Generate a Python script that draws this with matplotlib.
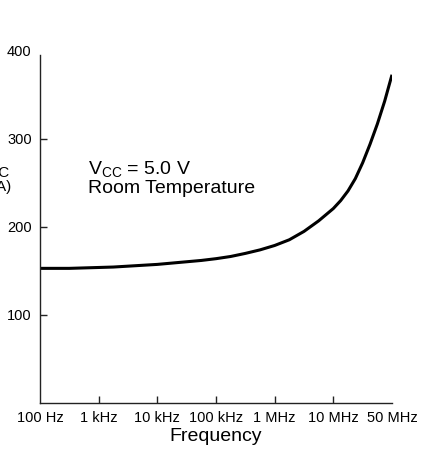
import matplotlib
matplotlib.use('Agg')
import matplotlib.pyplot as plt

plt.rcParams['font.family'] = ['Liberation Sans', 'DejaVu Sans']
plt.rcParams['mathtext.fontset'] = 'custom'
plt.rcParams['mathtext.rm'] = 'Liberation Sans'

# frequency axis: evenly spaced labels, curve position in label units
freq_labels = ["100 Hz", "1 kHz", "10 kHz", "100 kHz", "1 MHz", "10 MHz", "50 MHz"]
freq_pos = [0, 0.25, 0.5, 0.75, 1, 1.25, 1.5, 1.75, 2, 2.25, 2.5, 2.75, 3, 3.25, 3.5,
            3.75, 4, 4.25, 4.5, 4.75, 5, 5.125, 5.25, 5.375, 5.5, 5.625, 5.75, 5.875, 6]
icc_ua = [153, 153, 153, 153.5, 154, 154.5, 155.5, 156.5, 157.5, 159, 160.5, 162, 164, 166.5, 170,
          174, 179, 185.5, 195, 207, 221, 230, 241, 255, 273, 294, 317, 343, 373]
y_ticks = [100, 200, 300, 400]

fig = plt.figure(figsize=(4.24, 4.51), dpi=100)
ax = fig.add_axes([40/424, 48/451, 352/424, 352/451])

ax.plot(freq_pos, icc_ua, color='black', lw=2.2, solid_capstyle='butt')

ax.set_xlim(0, 6)
ax.set_ylim(0, 400)
ax.spines['top'].set_visible(False)
ax.spines['right'].set_visible(False)
ax.spines['left'].set_bounds(0, 396)
for s in ['left', 'bottom']:
    ax.spines[s].set_linewidth(1.0)
    ax.spines[s].set_color('#222222')

ax.set_xticks(range(len(freq_labels)))
ax.set_xticklabels(freq_labels)
ax.set_yticks(y_ticks)
ax.tick_params(direction='in', length=5, width=1.0, color='#222222', labelsize=10.5, pad=6)
ax.yaxis.get_major_ticks()[-1].tick1line.set_visible(False)
ax.xaxis.get_major_ticks()[0].tick1line.set_visible(False)
ax.xaxis.get_major_ticks()[-1].tick1line.set_visible(False)

ax.set_xlabel("Frequency", fontsize=14, labelpad=2)

ax.text(0.136, 0.69, r"V$_{\mathregular{CC}}$ = 5.0 V" + "\nRoom Temperature",
        transform=ax.transAxes, fontsize=14, va='top', ha='left', linespacing=0.95)

fig.text(-3.5/424, 1 - 180/451, "ICC\n(µA)", fontsize=11, ha='center', va='center',
         linespacing=1.0)

fig.savefig("out.png", dpi=100)
